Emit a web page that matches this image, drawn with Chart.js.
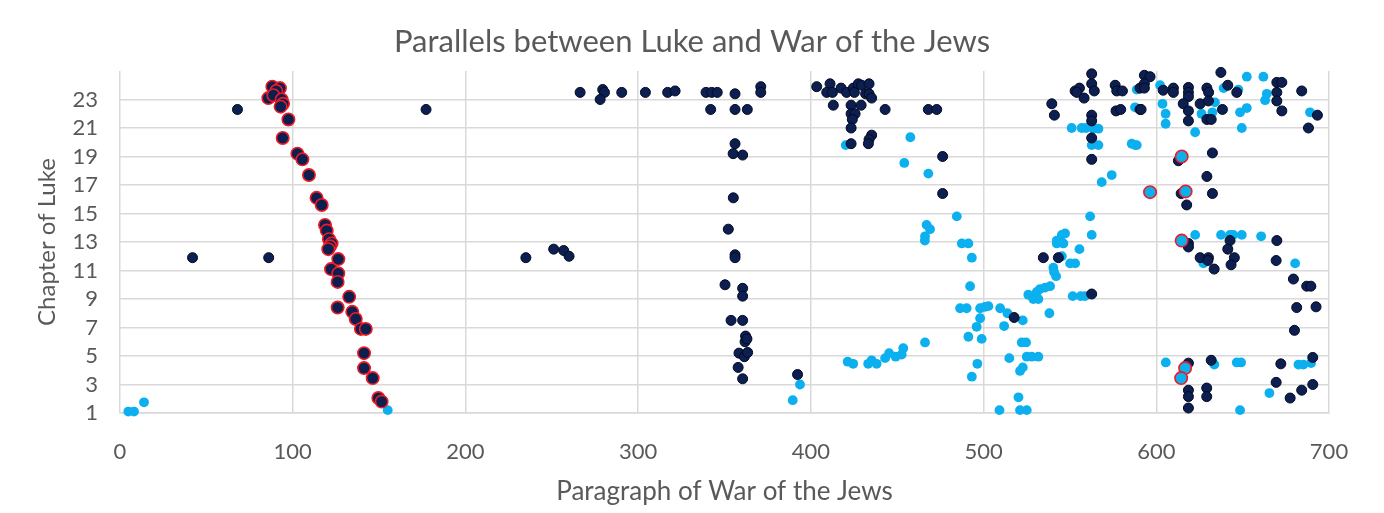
<!DOCTYPE html>
<html>
<head>
<meta charset="utf-8">
<script src="https://cdn.jsdelivr.net/npm/chart.js@4.4.1/dist/chart.umd.min.js"></script>
<style>
  html, body { margin: 0; padding: 0; background: #fff; }
  #wrap { width: 1384px; height: 513px; }
</style>
</head>
<body>
<div id="wrap"><canvas id="graficScatter" width="1384" height="513"></canvas></div>
<script>
// paragraph of War of the Jews (x) vs chapter of Luke (y)
const redNavyPoints = [
    [88.2, 23.9], [92.6, 23.8], [90.5, 23.6], [85.9, 23.1], [88.8, 23.3], [93.6, 23.0], [94.4, 22.7],
    [93, 22.5], [97.5, 21.6], [94.2, 20.3], [102.7, 19.2], [105.6, 18.8], [109.4, 17.7],
    [113.8, 16.1], [116.8, 15.6], [118.7, 14.2], [119.7, 13.8], [121, 13.2], [122.5, 12.9],
    [121.6, 12.7], [120.6, 12.5], [126.4, 11.8], [122.2, 11.1], [126.4, 10.8], [126, 10.2],
    [132.7, 9.15], [126, 8.4], [134.5, 8.1], [136.5, 7.6], [139.5, 6.9], [142.3, 6.9],
    [141.3, 5.2], [141.3, 4.15], [146.3, 3.45], [149.6, 2.05], [151.5, 1.8]
];

const redBluePoints = [
    [614.7, 19.0], [596.4, 16.5], [617, 16.55], [614.7, 13.1], [616.7, 4.15], [614.4, 3.45]
];

const navyPoints = [
    [68, 22.3], [177.2, 22.3], [42, 11.9], [86.1, 11.9], [235, 11.9], [251.1, 12.5], [256.9, 12.4], [260, 12.0],
    [266.4, 23.5], [279.5, 23.7], [280.5, 23.5], [278, 23.0], [290.5, 23.5], [304.2, 23.5], [317.1, 23.5],
    [321.4, 23.6], [339.3, 23.5], [342.6, 23.5], [345.8, 23.5], [342, 22.3],
    [356.1, 23.4], [371, 23.9], [371, 23.5], [356.1, 22.3], [363.2, 22.3], [356.1, 19.9], [355, 19.2],
    [360.5, 19.1], [355.1, 16.1], [352.2, 13.9], [356.1, 12.1], [356.1, 11.9], [350.3, 10.0], [360.5, 9.75],
    [360.5, 9.2], [353.8, 7.5], [360.5, 7.5], [362.2, 6.4], [361.9, 6.0], [363, 6.2], [358.4, 5.2],
    [361.5, 4.95], [363.4, 5.25], [357.9, 4.2], [360.5, 3.4], [392.3, 3.7],
    [403.4, 23.9], [411.1, 24.1], [409.2, 23.5], [412.5, 23.5], [417.5, 23.8], [420.7, 23.5], [424.6, 23.8],
    [425.2, 23.5], [427.5, 24.1], [429.4, 24.0], [433.7, 24.1], [431.7, 23.4], [433.7, 23.4], [435.2, 23.1],
    [413, 22.6], [423.3, 22.6], [429.1, 22.6], [443, 22.3], [423.3, 22.0], [425.6, 22.0], [424, 21.6],
    [423.3, 21.0], [435.2, 20.5], [433.7, 20.2], [423.3, 19.9], [433.3, 19.9],
    [468, 22.3], [472.9, 22.3], [476.3, 19.0], [476.3, 16.4], [517.7, 7.7],
    [539.5, 22.7], [541, 21.9], [562.6, 24.8], [562.6, 24.1], [553, 23.6], [555.5, 23.8], [554, 23.5],
    [558.2, 23.1], [564.1, 23.6], [576.2, 24.0], [577.1, 23.6], [580.4, 23.6], [576.7, 22.2], [579.4, 22.3],
    [562.6, 21.9], [562.6, 21.5], [562.6, 20.3], [562.6, 18.8], [590.6, 23.8], [590.6, 22.3],
    [534.6, 11.9], [543.3, 11.9], [562.6, 9.35],
    [593.1, 24.7], [596.4, 24.6], [593.1, 24.1], [593.1, 23.8], [637.4, 24.9], [641.4, 24.0], [646.6, 23.5],
    [669.8, 24.2], [672.7, 24.2], [669.8, 23.5], [669.8, 22.9], [684.2, 23.6], [672.7, 22.2], [693.3, 21.9],
    [688.1, 21.0], [604, 23.65], [609.9, 23.8], [609.9, 23.5], [618.6, 23.85], [618.6, 23.5], [618.6, 23.2],
    [629.3, 23.8], [630.3, 23.5], [615.6, 22.7], [625.4, 22.7], [630.2, 22.9], [618.6, 22.2], [618.6, 21.5],
    [629.3, 21.6], [631.8, 21.6], [638.3, 22.3], [591.2, 22.3],
    [612.8, 18.7], [632.5, 19.25], [629.3, 17.6], [632.5, 16.4], [614.4, 16.4], [617.6, 15.6], [642.7, 13.1],
    [669.8, 13.1], [618.6, 12.9], [618.6, 12.65], [625.4, 11.9], [630.2, 11.9], [629.9, 11.7], [633.5, 11.1],
    [641.4, 12.5], [645.2, 11.9], [643.3, 11.4], [669.4, 11.7], [679.4, 10.4], [687.1, 9.9], [689.5, 9.9],
    [681.3, 8.4], [692.5, 8.45], [680, 6.8], [618.6, 4.5], [631.8, 4.7], [672.1, 4.45], [690.6, 4.9],
    [669.4, 3.15], [690.6, 3.0], [684.2, 2.6], [677.5, 2.05], [618.6, 2.6], [618.6, 2.15], [618.6, 1.35],
    [629.2, 2.75], [629.2, 2.15]
];

const bluePoints = [
    [4.8, 1.1], [8.1, 1.1], [13.9, 1.75], [155, 1.2], [393.7, 3.0], [389.5, 1.9],
    [420.2, 19.8], [457.6, 20.35], [454.1, 18.55], [468, 17.8], [467, 14.2], [469, 13.9], [466.1, 13.4], [466, 13.1],
    [421.3, 4.6], [424.5, 4.45], [433.2, 4.45], [435.2, 4.7], [438.1, 4.45], [443, 4.85], [445.3, 5.2],
    [449.1, 4.95], [452.6, 5.1], [453.5, 5.55], [466.1, 5.95],
    [551, 21.0], [556.8, 21.0], [559.3, 21.0], [563.6, 20.95], [566.5, 20.95], [562.6, 19.8], [566.5, 19.8],
    [568.4, 17.2], [574.2, 17.7], [588.7, 23.7], [587.7, 22.45], [585.8, 19.9], [587.7, 19.8],
    [484.5, 14.8], [487.4, 12.9], [491.2, 12.9], [561.7, 14.8], [562.6, 13.5], [545.3, 13.5], [542.4, 13.1], [547.2, 13.6],
    [493.2, 11.9], [492.2, 9.9], [486.4, 8.35], [490.2, 8.35], [498, 8.35], [500.9, 8.45], [502.8, 8.5],
    [509.6, 8.35], [513.8, 8.0], [498, 7.65], [496, 7.05], [511.9, 7.1], [522.7, 7.5], [491.2, 6.35],
    [498.9, 6.2], [522.1, 5.95], [524.6, 5.95], [514.9, 4.85], [525, 4.95], [527.9, 4.95], [531.7, 4.95],
    [496.4, 4.45], [522.7, 4.2], [521.1, 3.95], [493.2, 3.55], [520.2, 2.1], [509.2, 1.2], [521.1, 1.2], [525, 1.2],
    [542.4, 12.9], [546.2, 12.9], [555.5, 12.5], [545.3, 12.0], [550.1, 11.5], [553, 11.5], [540.4, 11.2],
    [540.8, 10.9], [542, 10.6], [538.5, 9.9], [535.6, 9.8], [532.7, 9.7], [530.8, 9.5], [525.9, 9.3],
    [528.8, 9.0], [531.7, 9.0], [551.6, 9.2], [556.2, 9.2], [558.7, 9.2], [538.1, 8.0],
    [602.2, 24.0], [603.6, 22.7], [605.4, 22.0], [605.4, 21.3], [622.5, 20.7], [652.4, 24.6], [662, 24.6],
    [664, 23.4], [663, 22.95], [647.5, 23.7], [639, 23.8], [634, 22.8], [632.5, 22.1], [626.2, 22.0],
    [648.5, 22.1], [652.4, 22.4], [649.5, 21.0], [689, 22.1], [588.7, 19.8],
    [622.5, 13.5], [637.5, 13.5], [642.7, 13.5], [644.6, 13.5], [649.5, 13.5], [660.7, 13.4],
    [680.4, 11.5], [627.3, 11.5], [605.5, 4.55], [633.6, 4.4], [646.6, 4.55], [649.1, 4.55],
    [682.3, 4.4], [685.2, 4.4], [689.6, 4.5], [665.5, 2.4], [648.5, 1.2]
];

const xTicks = [0, 100, 200, 300, 400, 500, 600, 700];
const yTicks = [1, 3, 5, 7, 9, 11, 13, 15, 17, 19, 21, 23];

const NAVY = '#0d1f50';
const NAVY_EDGE = '#020a22';
const BLUE = '#0cb0ee';
const RED = '#ec1c24';
const TEXT = '#595959';
const GRID = '#d9d9d9';
const FONT = "Lato, 'Open Sans', sans-serif";

const toXY = pts => pts.map(p => ({ x: p[0], y: p[1] }));

const ctx = document.getElementById('graficScatter').getContext('2d');
new Chart(ctx, {
    type: 'scatter',
    data: {
        datasets: [
            {
                label: 'Luke parallel (marked)',
                data: toXY(redNavyPoints),
                backgroundColor: NAVY, borderColor: RED, borderWidth: 1.6, pointRadius: 6.2, clip: false
            },
            {
                label: 'Luke parallel (marked, light)',
                data: toXY(redBluePoints),
                backgroundColor: BLUE, borderColor: RED, borderWidth: 1.6, pointRadius: 6.2, clip: false
            },
            {
                label: 'Luke parallel',
                data: toXY(navyPoints),
                backgroundColor: NAVY, borderColor: NAVY_EDGE, borderWidth: 1, pointRadius: 5, clip: false
            },
            {
                label: 'Luke parallel (light)',
                data: toXY(bluePoints),
                backgroundColor: BLUE, borderColor: BLUE, borderWidth: 0, pointRadius: 4.9, clip: false
            }
        ]
    },
    options: {
        responsive: false,
        animation: false,
        events: [],
        layout: { padding: 0 },
        plugins: {
            legend: { display: false },
            tooltip: { enabled: false },
            title: {
                display: true,
                text: 'Parallels between Luke and War of the Jews',
                color: TEXT,
                font: { family: FONT, size: 31, weight: 'normal' },
                padding: { top: 23.4, bottom: 10.4 }
            }
        },
        scales: {
            x: {
                type: 'linear',
                min: xTicks[0],
                max: xTicks[xTicks.length - 1],
                afterBuildTicks: axis => { axis.ticks = xTicks.map(v => ({ value: v })); },
                afterFit: axis => { axis.height = 100; },
                ticks: { color: TEXT, font: { family: FONT, size: 22 }, padding: 26, maxRotation: 0 },
                grid: { color: GRID, lineWidth: 1.5, drawTicks: false },
                border: { display: true, color: GRID, width: 1.5 },
                title: {
                    display: true,
                    text: 'Paragraph of War of the Jews',
                    color: TEXT,
                    font: { family: FONT, size: 26 },
                    padding: { top: 0, bottom: 5.4 }
                }
            },
            y: {
                type: 'linear',
                min: 1,
                max: 25,
                afterBuildTicks: axis => { axis.ticks = yTicks.map(v => ({ value: v })); },
                afterFit: axis => { axis.width = 120; },
                ticks: { color: TEXT, font: { family: FONT, size: 22 }, padding: 22 },
                grid: { color: GRID, lineWidth: 1.5, drawTicks: false },
                border: { display: false },
                title: {
                    display: true,
                    text: 'Chapter of Luke',
                    color: TEXT,
                    font: { family: FONT, size: 24 },
                    padding: { top: 32.6, bottom: 0 }
                }
            },
            // empty strip on the right so the plot ends where the original does
            yRight: {
                type: 'linear',
                position: 'right',
                afterFit: axis => { axis.width = 55; },
                ticks: { display: false },
                grid: { display: false, drawTicks: false },
                border: { display: false }
            }
        }
    }
});
</script>
</body>
</html>
